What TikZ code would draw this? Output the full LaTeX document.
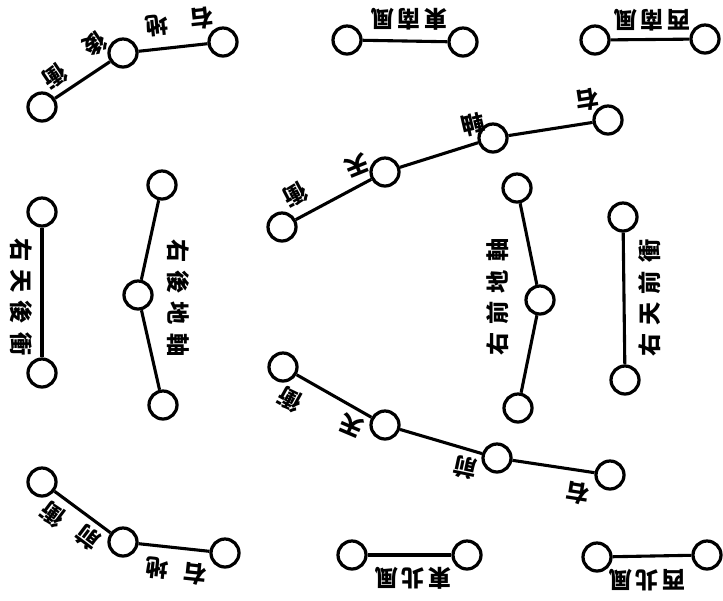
\documentclass[tikz,border=0pt]{standalone}
\usepackage{fontspec}
\newfontfamily\cjk{Noto Sans CJK TC}
\usepackage{tikz}

\newcommand\chgap{\hspace{0.2cm}}
\newcommand\wgap{\hspace{0.08cm}}

\begin{document}
\begin{tikzpicture}[x=0.025cm, y=-0.025cm, line width=2.2pt,
  post/.style={circle, draw, fill=white, line width=2.3pt, minimum size=0.7cm, inner sep=0pt},
  tag/.style={font=\cjk\bfseries\fontsize{16.5}{16.5}\selectfont, inner sep=0pt}]

\useasboundingbox (0,0) rectangle (723,600);

% wind posts, top and bottom rows
\node[post] (sw1) at (595,40) {};
\node[post] (sw2) at (705,39) {};
\node[post] (se1) at (347,40) {};
\node[post] (se2) at (463,42) {};
\node[post] (nw1) at (597,557) {};
\node[post] (nw2) at (707,555) {};
\node[post] (ne1) at (352,555) {};
\node[post] (ne2) at (467,555) {};

% left and right arcs of three posts
\node[post] (tl1) at (42,107)  {};
\node[post] (tl2) at (123,53)  {};
\node[post] (tl3) at (223,42)  {};
\node[post] (bl1) at (42,482)  {};
\node[post] (bl2) at (123,542) {};
\node[post] (bl3) at (225,553) {};

% middle arcs of four posts
\node[post] (tc1) at (282,227) {};
\node[post] (tc2) at (385,172) {};
\node[post] (tc3) at (493,138) {};
\node[post] (tc4) at (608,120) {};
\node[post] (bc1) at (283,367) {};
\node[post] (bc2) at (385,425) {};
\node[post] (bc3) at (497,458) {};
\node[post] (bc4) at (610,475) {};

% the four columns
\node[post] (lo1) at (42,212)  {};
\node[post] (lo2) at (42,373)  {};
\node[post] (li1) at (162,185) {};
\node[post] (li2) at (138,295) {};
\node[post] (li3) at (163,405) {};
\node[post] (ri1) at (517,188) {};
\node[post] (ri2) at (540,300) {};
\node[post] (ri3) at (518,408) {};
\node[post] (ro1) at (623,217) {};
\node[post] (ro2) at (625,380) {};

% connectors
\draw (sw1) -- (sw2);
\draw (se1) -- (se2);
\draw (nw1) -- (nw2);
\draw (ne1) -- (ne2);
\draw (tl1) -- (tl2) -- (tl3);
\draw (bl1) -- (bl2) -- (bl3);
\draw (tc1) -- (tc2) -- (tc3) -- (tc4);
\draw (bc1) -- (bc2) -- (bc3) -- (bc4);
\draw (lo1) -- (lo2);
\draw (li1) -- (li2) -- (li3);
\draw (ri1) -- (ri2) -- (ri3);
\draw (ro1) -- (ro2);

% wind labels
\node[tag, rotate=180] (sw) at (652,20)  {西\wgap 南\wgap 風};
\node[tag, rotate=180] (se) at (409,19)  {東\wgap 南\wgap 風};
\node[tag, rotate=180] (nw) at (647,580) {西\wgap 北\wgap 風};
\node[tag, rotate=180] (ne) at (413,578) {東\wgap 北\wgap 風};

% arc labels, one sign each
\node[tag, rotate=186] (tlA) at (202,18)  {右};
\node[tag, rotate=186] (tlB) at (157,26)  {地};
\node[tag, rotate=214] (tlC) at (95,44)   {後};
\node[tag, rotate=214] (tlD) at (55,76)   {衝};
\node[tag, rotate=189] (tcA) at (587,100) {右};
\node[tag, rotate=193] (tcB) at (473,125) {軸};
\node[tag, rotate=202] (tcC) at (357,165) {天};
\node[tag, rotate=208] (tcD) at (295,195) {衝};
\node[tag, rotate=151] (bcD) at (290,400) {衝};
\node[tag, rotate=157] (bcC) at (352,425) {天};
\node[tag, rotate=168] (bcB) at (465,468) {前};
\node[tag, rotate=171] (bcA) at (578,493) {右};
\node[tag, rotate=143] (blD) at (53,515)  {衝};
\node[tag, rotate=143] (blC) at (88,538)  {前};
\node[tag, rotate=174] (blB) at (157,568) {地};
\node[tag, rotate=174] (blA) at (195,574) {右};

% column labels
\node[tag, rotate=90]  (ro) at (650,298) {右\chgap 天\chgap 前\chgap 衝};
\node[tag, rotate=90]  (ri) at (498,297) {右\chgap 前\chgap 地\chgap 軸};
\node[tag, rotate=-90] (lo) at (21,297)  {右\chgap 天\chgap 後\chgap 衝};
\node[tag, rotate=-90] (li) at (178,298) {右\chgap 後\chgap 地\chgap 軸};

\end{tikzpicture}
\end{document}
